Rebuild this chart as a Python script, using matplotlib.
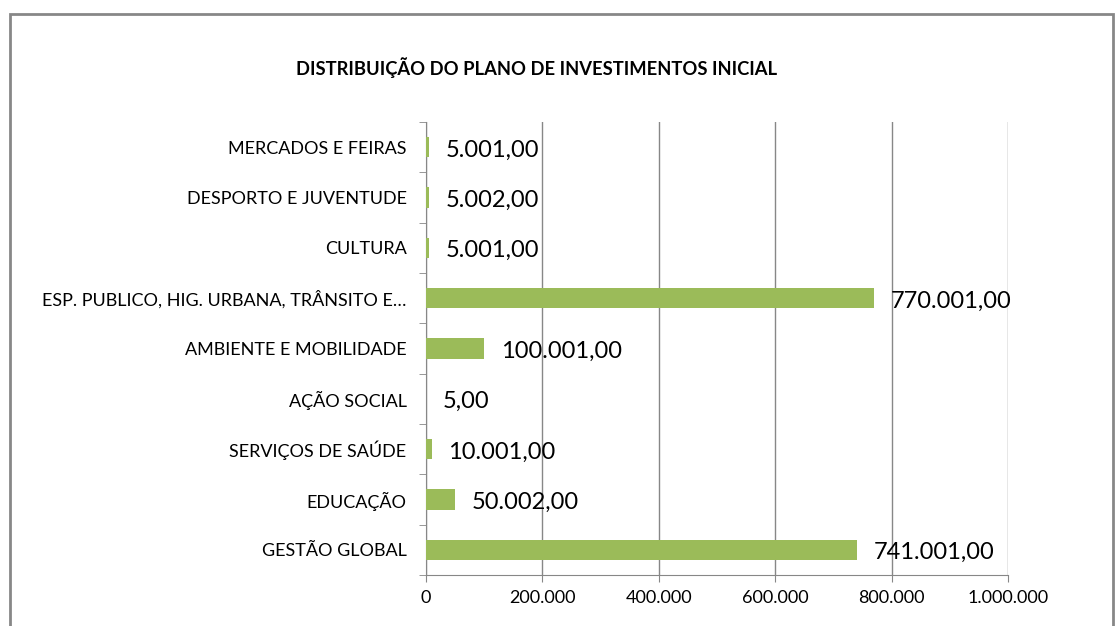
import matplotlib.pyplot as plt
from matplotlib.patches import Rectangle

plt.rcParams['font.family'] = ['Lato', 'DejaVu Sans']

categorias = ['GESTÃO GLOBAL', 'EDUCAÇÃO', 'SERVIÇOS DE SAÚDE', 'AÇÃO SOCIAL',
              'AMBIENTE E MOBILIDADE', 'ESP. PUBLICO, HIG. URBANA, TRÂNSITO E…',
              'CULTURA', 'DESPORTO E JUVENTUDE', 'MERCADOS E FEIRAS']
valores = [741001.00, 50002.00, 10001.00, 5.00, 100001.00, 770001.00,
           5001.00, 5002.00, 5001.00]
ticks = [0, 200000, 400000, 600000, 800000, 1000000]


def fmt_pt(v, dec=0):
    s = f'{v:,.{dec}f}'
    return s.replace(',', 'X').replace('.', ',').replace('X', '.')


fig = plt.figure(figsize=(11.15, 6.26), dpi=100)
ax = fig.add_axes([426 / 1115, 1 - 575 / 626, 582 / 1115, 453 / 626])

y = range(len(categorias))
ax.barh(y, valores, height=0.4, color='#9BBB59', zorder=3)
ax.set_ylim(-0.5, len(categorias) - 0.5)
ax.set_xlim(0, 1000000)

# rótulos de dados
for i, v in enumerate(valores):
    ax.annotate(fmt_pt(v, 2), (v, i), xytext=(12, -2), textcoords='offset points',
                va='center', ha='left', fontsize=17, color='black', zorder=4)

ax.set_yticks(list(y))
ax.set_yticklabels(categorias, fontsize=13)
ax.set_yticks([i + 0.5 for i in range(-1, len(categorias))], minor=True)
ax.tick_params(axis='y', which='major', length=0, pad=14)
ax.tick_params(axis='y', which='minor', length=5, color='#878787')

ax.set_xticks(ticks)
ax.set_xticklabels([fmt_pt(t) for t in ticks], fontsize=13)
ax.tick_params(axis='x', length=5, color='#878787', pad=6)
ax.grid(axis='x', color='#878787', linewidth=1, zorder=0)

for s in ['top', 'right']:
    ax.spines[s].set_visible(False)
for s in ['left', 'bottom']:
    ax.spines[s].set_color('#878787')

fig.text(537 / 1115, 1 - 68 / 626, 'DISTRIBUIÇÃO DO PLANO DE INVESTIMENTOS INICIAL',
         ha='center', va='center', fontsize=13.2, fontweight='bold')

# moldura do gráfico
fig.patches.append(Rectangle((10 / 1115, -0.1), 1103 / 1115, 1.1 - 14 / 626,
                             transform=fig.transFigure, fill=False,
                             edgecolor='#878787', linewidth=2))

fig.savefig('out.png', dpi=100)
